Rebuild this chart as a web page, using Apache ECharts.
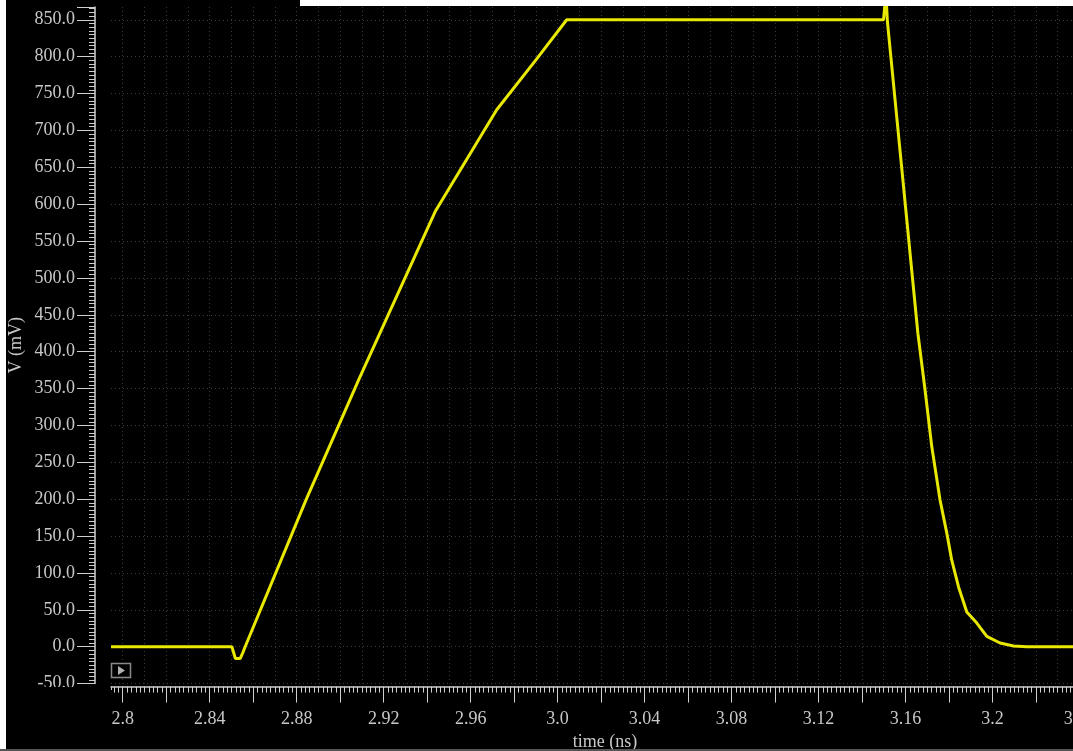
<!DOCTYPE html>
<html>
<head>
<meta charset="utf-8">
<script src="https://cdn.jsdelivr.net/npm/echarts@6/dist/echarts.min.js"></script>
<style>
html,body{margin:0;padding:0;background:#fff;}
#chart{width:1073px;height:751px;}
</style>
</head>
<body>
<div id="chart"></div>
<script>
// transient waveform: time in ns, voltage in mV
var timeNs = [2.7946, 2.8502, 2.8518, 2.8540, 2.8551, 2.8563, 2.8843, 2.9084, 2.9437, 2.9720,
              2.9904, 3.0042, 3.1499, 3.1510, 3.1517, 3.1657, 3.1690, 3.1721, 3.1759, 3.1790,
              3.1813, 3.1844, 3.1882, 3.1928, 3.1974, 3.2035, 3.2097, 3.2158, 3.2490];
var voltMv = [0, 0, -16, -16, -9, 0, 199, 361, 590, 728,
              797, 850, 850, 885, 847, 425, 348, 271, 199, 154,
              117, 81, 47, 32, 14, 5, 1, 0, 0];

var xRange = [2.7946, 3.249];
var yRange = [-50, 867.3];

var axisGrey = '#cfcfcf';
var gridGrey = '#3a3a3a';
var font = 'Liberation Serif';

function drawWave(){
	var chart = echarts.init(document.querySelector('#chart'))
	var points = timeNs.map(function(t, i){ return [t, voltMv[i]] })

	var option = {
    backgroundColor: '#000',
    animation: false,
    grid: {
        left: 111,
        right: -26,
        top: 7,
        bottom: 67.4,
        outerBoundsMode: 'none',
        containLabel: false
    },
    xAxis: [
        {
            // tick marks + labels
            type: 'value',
            min: xRange[0],
            max: xRange[1],
            minInterval: 0.02,
            maxInterval: 0.02,
            position: 'bottom',
            offset: 3,
            axisLine: {onZero: false, lineStyle: {color: axisGrey, width: 1.5}},
            axisTick: {length: 16, lineStyle: {color: axisGrey}},
            minorTick: {show: true, splitNumber: 10, length: 6, lineStyle: {color: axisGrey}},
            splitLine: {show: false},
            axisLabel: {
                color: '#c8c8c8',
                fontFamily: font,
                fontSize: 18,
                margin: 24,
                showMinLabel: false,
                showMaxLabel: false,
                formatter: function(v){
                    var k = Math.round(v * 100)
                    if (k % 4 !== 0) return ''
                    var s = (k / 100).toFixed(2)
                    if (s.charAt(s.length - 1) === '0') s = s.slice(0, -1)
                    return s
                }
            },
            name: 'time (ns)',
            nameLocation: 'middle',
            nameGap: 47,
            nameMoveOverlap: false,
            nameTextStyle: {color: '#c8c8c8', fontFamily: font, fontSize: 18}
        },
        {
            // dotted vertical grid every 0.01 ns
            type: 'value',
            min: xRange[0],
            max: xRange[1],
            minInterval: 0.01,
            maxInterval: 0.01,
            position: 'bottom',
            axisLine: {show: false, onZero: false},
            axisTick: {show: false},
            axisLabel: {show: false},
            splitLine: {show: true, showMinLine: false, showMaxLine: false,
                        lineStyle: {color: gridGrey, type: [1, 3], width: 1}}
        }
    ],
    yAxis: {
        type: 'value',
        min: yRange[0],
        max: yRange[1],
        interval: 50,
        position: 'left',
        offset: 16,
        axisLine: {show: true, onZero: false, lineStyle: {color: axisGrey, width: 1.5}},
        axisTick: {length: 18, lineStyle: {color: axisGrey}},
        minorTick: {show: true, splitNumber: 10, length: 6, lineStyle: {color: axisGrey}},
        splitLine: {show: true, showMaxLine: false,
                    lineStyle: {color: gridGrey, type: [1, 3], width: 1}},
        axisLabel: {
            color: '#c8c8c8',
            fontFamily: font,
            fontSize: 18,
            margin: 20,
            showMaxLabel: false,
            formatter: function(v){ return v.toFixed(1) }
        },
        name: 'V (mV)',
        nameLocation: 'middle',
        nameGap: 70,
        nameMoveOverlap: false,
        nameTextStyle: {color: '#c8c8c8', fontFamily: font, fontSize: 18}
    },
    series: [
        {
            name: 'V',
            type: 'line',
            xAxisIndex: 0,
            data: points,
            showSymbol: false,
            clip: true,
            lineStyle: {color: '#e8e800', width: 3}
        }
    ],
    graphic: [
        // hide the lower half of the -50.0 label like the original
        {type: 'rect', z: 100, shape: {x: 0, y: 687, width: 104, height: 20}, style: {fill: '#000'}},
        // no long tick at the very start of the time axis
        {type: 'rect', z: 100, shape: {x: 109, y: 690, width: 4, height: 16}, style: {fill: '#000'}},
        // small play button in the corner
        {type: 'rect', z: 100, shape: {x: 111.5, y: 663.5, width: 19, height: 14},
         style: {fill: '#000', stroke: '#8a8a8a', lineWidth: 1.5}},
        {type: 'polygon', z: 101, shape: {points: [[118, 666], [118, 675], [125, 670.5]]},
         style: {fill: '#b0b0b0'}},
        // window edges
        {type: 'rect', z: 100, shape: {x: 0, y: 0, width: 6, height: 751}, style: {fill: '#fff'}},
        {type: 'rect', z: 100, shape: {x: 300, y: 0, width: 773, height: 6}, style: {fill: '#fff'}},
        {type: 'rect', z: 100, shape: {x: 0, y: 749, width: 1073, height: 2}, style: {fill: '#555'}}
    ]
};

	chart.setOption(option)
}

drawWave()
</script>
</body>
</html>
